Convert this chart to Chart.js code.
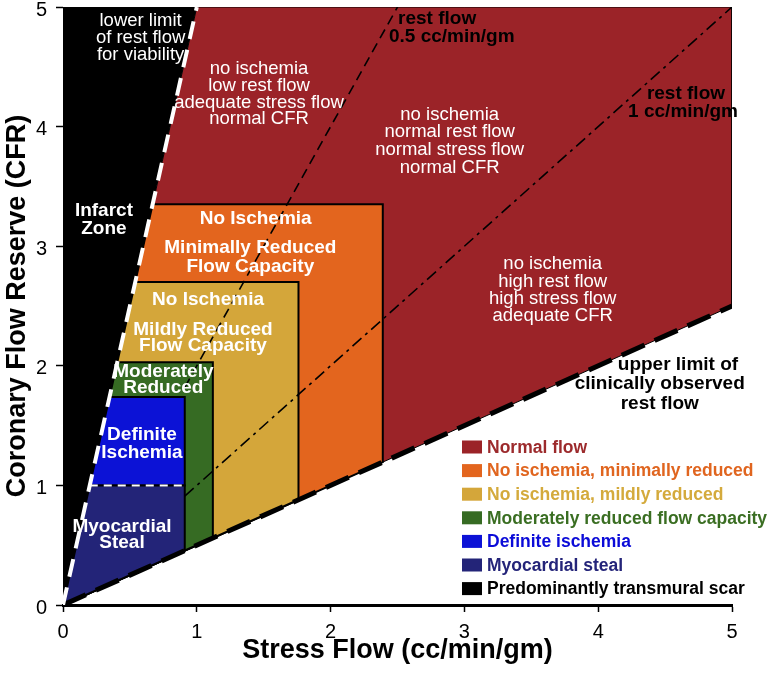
<!DOCTYPE html>
<html>
<head>
<meta charset="utf-8">
<title>Coronary flow capacity</title>
<script src="https://cdn.jsdelivr.net/npm/chart.js@4.4.1/dist/chart.umd.min.js"></script>
<style>
  html, body { margin: 0; padding: 0; background: #fff; }
  canvas { display: block; }
</style>
</head>
<body>
<canvas id="cfc" width="774" height="684"></canvas>
<script>
// Zones, in legend order
const zoneNames = [
  'Normal flow',
  'No ischemia, minimally reduced',
  'No ischemia, mildly reduced',
  'Moderately reduced flow capacity',
  'Definite ischemia',
  'Myocardial steal',
  'Predominantly transmural scar',
];
const zoneColors = ['#9b2328', '#e3651e', '#d4a63a', '#366b23', '#0c12d6', '#232478', '#000000'];
const legendColors = ['#9c2a2c', '#e0651f', '#d4aa3c', '#3a6e22', '#0b0bd8', '#242479', '#000000'];

// Flow capacity thresholds (stress flow cc/min/gm and CFR)
const stressCuts = [0.91, 1.12, 1.76, 2.39];
const cfrCuts = [1.74, 2.03, 2.70, 3.35];
const stealCfr = 1.0;
// rest flow = stress / CFR
const restLimits = [0.2, 2.0];   // lower limit for viability, upper clinically observed
const restFlows = [0.5, 1.0];    // iso rest-flow lines
const axisTicks = [0, 1, 2, 3, 4, 5];

const FONT = '"Liberation Sans", Arial, Helvetica, sans-serif';
const maxV = axisTicks[axisTicks.length - 1];
const lo = restLimits[0];
const hi = restLimits[1];

function pt(x, y) { return { x, y }; }

// zone bounded by the two rest-flow limits, a stress cut and a CFR cut
function box(s, c) {
  return [pt(0, 0), pt(c * lo, c), pt(s, c), pt(s, s / hi), pt(0, 0)];
}

const zoneShapes = [
  [pt(0, 0), pt(maxV * lo, maxV), pt(maxV, maxV), pt(maxV, maxV / hi), pt(0, 0)],
  box(stressCuts[3], cfrCuts[3]),
  box(stressCuts[2], cfrCuts[2]),
  box(stressCuts[1], cfrCuts[1]),
  [pt(stealCfr * lo, stealCfr), pt(cfrCuts[0] * lo, cfrCuts[0]), pt(stressCuts[0], cfrCuts[0]),
   pt(stressCuts[0], stealCfr), pt(stealCfr * lo, stealCfr)],
  [pt(0, 0), pt(stealCfr * lo, stealCfr), pt(stressCuts[0], stealCfr),
   pt(stressCuts[0], stressCuts[0] / hi), pt(0, 0)],
  [pt(0, 0), pt(maxV * lo, maxV), pt(0, maxV), pt(0, 0)],
];
const zoneBorders = [1, 2, 2, 2, 2, 2, 0];

const zoneSets = zoneNames.map((name, i) => ({
  label: name,
  data: zoneShapes[i],
  showLine: true,
  fill: 'shape',
  backgroundColor: zoneColors[i],
  borderColor: '#000',
  borderWidth: zoneBorders[i],
  pointRadius: 0,
  order: 10 + (zoneNames.length - i),
}));

const lineSets = [
  { // lower limit of rest flow for viability
    data: [pt(0, 0), pt(maxV * lo, maxV)],
    borderColor: '#fff', borderWidth: 4, borderDash: [18, 11],
  },
  { // steal threshold
    data: [pt(stealCfr * lo, stealCfr), pt(stressCuts[0], stealCfr)],
    borderColor: '#fff', borderWidth: 2, borderDash: [8, 6],
  },
  { // rest flow 0.5
    data: [pt(stressCuts[0], stressCuts[0] / restFlows[0]), pt(maxV * restFlows[0], maxV)],
    borderColor: '#000', borderWidth: 1.6, borderDash: [10, 6],
  },
  { // rest flow 1
    data: [pt(stressCuts[0], stressCuts[0] / restFlows[1]), pt(maxV * restFlows[1], maxV)],
    borderColor: '#000', borderWidth: 1.6, borderDash: [12, 5, 3, 5],
  },
  { // upper limit of clinically observed rest flow
    data: [pt(0, 0), pt(maxV, maxV / hi)],
    borderColor: '#000', borderWidth: 5, borderDash: [25, 11],
  },
].map(d => Object.assign({ showLine: true, fill: false, pointRadius: 0, order: 1 }, d));

// Text inside the plot (x, y in data units)
const notes = [
  { text: ['lower limit', 'of rest flow', 'for viability'], x: 0.58, y: 4.88, gap: 17, color: '#fff' },
  { text: ['no ischemia', 'low rest flow', 'adequate stress flow', 'normal CFR'], x: 1.465, y: 4.48, gap: 16.7, color: '#fff' },
  { text: ['no ischemia', 'normal rest flow', 'normal stress flow', 'normal CFR'], x: 2.89, y: 4.10, gap: 17.7, color: '#fff' },
  { text: ['no ischemia', 'high rest flow', 'high stress flow', 'adequate CFR'], x: 3.66, y: 2.85, gap: 17.3, color: '#fff' },
  { text: ['Infarct', 'Zone'], x: 0.306, y: 3.30, gap: 18, color: '#fff', bold: true },
  { text: ['No Ischemia'], x: 1.44, y: 3.227, color: '#fff', bold: true },
  { text: ['Minimally Reduced', 'Flow Capacity'], x: 1.40, y: 2.985, gap: 19, color: '#fff', bold: true },
  { text: ['No Ischemia'], x: 1.084, y: 2.55, color: '#fff', bold: true },
  { text: ['Mildly Reduced', 'Flow Capacity'], x: 1.046, y: 2.30, gap: 16, color: '#fff', bold: true },
  { text: ['Moderately', 'Reduced'], x: 0.75, y: 1.948, gap: 16, color: '#fff', bold: true },
  { text: ['Definite', 'Ischemia'], x: 0.59, y: 1.421, gap: 18, color: '#fff', bold: true },
  { text: ['Myocardial', 'Steal'], x: 0.441, y: 0.652, gap: 16, color: '#fff', bold: true },
  { text: ['rest flow'], x: 2.504, y: 4.90, color: '#000', bold: true, align: 'left' },
  { text: ['0.5 cc/min/gm'], x: 2.436, y: 4.749, color: '#000', bold: true, align: 'left' },
  { text: ['rest flow'], x: 4.656, y: 4.273, color: '#000', bold: true },
  { text: ['1 cc/min/gm'], x: 4.634, y: 4.122, color: '#000', bold: true },
  { text: ['upper limit of'], x: 4.596, y: 2.007, color: '#000', bold: true },
  { text: ['clinically observed', 'rest flow'], x: 4.46, y: 1.848, gap: 20, color: '#000', bold: true },
];

const notesPlugin = {
  id: 'notes',
  afterDatasetsDraw(chart) {
    const { ctx, scales: { x, y } } = chart;
    ctx.save();
    ctx.textBaseline = 'middle';
    for (const n of notes) {
      ctx.font = n.bold ? 'bold 19px ' + FONT : '18.5px ' + FONT;
      ctx.fillStyle = n.color;
      ctx.textAlign = n.align || 'center';
      const px = x.getPixelForValue(n.x);
      const py = y.getPixelForValue(n.y);
      n.text.forEach((line, i) => ctx.fillText(line, px, py + i * (n.gap || 0)));
    }
    ctx.restore();
  },
};

// Legend in the lower right of the plot
const legendPlugin = {
  id: 'zoneLegend',
  afterDraw(chart) {
    const { ctx, chartArea } = chart;
    const left = chartArea.left + 399;
    const top = chartArea.top + 440;
    ctx.save();
    ctx.font = 'bold 17.5px ' + FONT;
    ctx.textBaseline = 'middle';
    ctx.textAlign = 'left';
    zoneNames.forEach((name, i) => {
      const cy = top + i * 23.6;
      ctx.fillStyle = zoneColors[i];
      ctx.fillRect(left, cy - 6.5, 20, 13);
      ctx.fillStyle = legendColors[i];
      ctx.fillText(name, left + 25, cy + 1);
    });
    ctx.restore();
  },
};

const tickFont = { family: FONT, size: 20 };
const titleFont = { family: FONT, size: 27, weight: 'bold' };

new Chart(document.getElementById('cfc'), {
  type: 'scatter',
  data: { datasets: [...lineSets, ...zoneSets] },
  options: {
    responsive: false,
    animation: false,
    devicePixelRatio: 1,
    layout: { padding: { top: 7, right: 42, left: 0, bottom: 0 } },
    plugins: { legend: { display: false }, tooltip: { enabled: false } },
    scales: {
      x: {
        type: 'linear', min: 0, max: maxV,
        afterBuildTicks: s => { s.ticks = axisTicks.map(v => ({ value: v })); },
        afterFit: s => { s.height = 79; s.paddingLeft = 0; s.paddingRight = 0; },
        ticks: { color: '#000', font: tickFont, padding: 8 },
        grid: { drawOnChartArea: false, drawTicks: true, tickLength: 7, tickColor: '#000', tickWidth: 1.5 },
        border: { display: true, color: '#000', width: 3 },
        title: { display: true, text: 'Stress Flow (cc/min/gm)', color: '#000', font: titleFont, padding: { top: 0, bottom: 17 } },
      },
      y: {
        type: 'linear', min: 0, max: maxV,
        afterBuildTicks: s => { s.ticks = axisTicks.map(v => ({ value: v })); },
        afterFit: s => { s.width = 63; s.paddingTop = 0; s.paddingBottom = 0; },
        ticks: { color: '#000', font: tickFont, padding: 9, labelOffset: 3 },
        grid: { drawOnChartArea: false, drawTicks: true, tickLength: 7, tickColor: '#000', tickWidth: 1.5 },
        border: { display: true, color: '#000', width: 1 },
        title: { display: true, text: 'Coronary Flow Reserve (CFR)', color: '#000', font: titleFont, padding: { top: 1, bottom: 0 } },
      },
    },
  },
  plugins: [notesPlugin, legendPlugin],
});
</script>
</body>
</html>
